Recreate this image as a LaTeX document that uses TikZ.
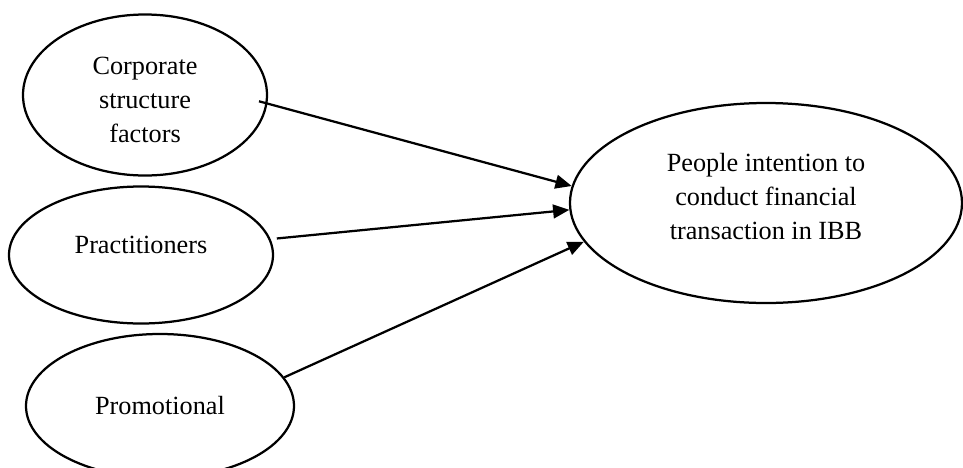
\documentclass[tikz,border=0pt]{standalone}
\usepackage{fontspec}
\setmainfont{Liberation Serif}
\usetikzlibrary{arrows.meta}
\usetikzlibrary{shapes.geometric}

\begin{document}
\begin{tikzpicture}[
		x=0.4pt, y=-0.4pt,
		arrow/.style={line width=0.9pt, -{Triangle[length=6.5pt, width=5.5pt]}},
		factor/.style={draw, ellipse, line width=0.9pt, inner sep=0pt, align=center, font=\fontsize{10.5}{13.6}\selectfont},
	]
		\useasboundingbox (0,0) rectangle (963,468);

		\node[factor, minimum width=97.6pt, minimum height=64.4pt, text height=37.9pt] (corporate) at (145,95) {Corporate\\structure\\factors};
		\node[factor, minimum width=105.6pt, minimum height=54.8pt, text depth=8pt] (practitioners) at (141,255) {Practitioners};
		\node[factor, minimum width=107.2pt, minimum height=57.6pt] (promotional) at (160,406) {Promotional};
		\node[factor, minimum width=156.8pt, minimum height=80pt, text depth=5.6pt] (intention) at (766,203) {People intention to\\conduct financial\\transaction in IBB};

		\draw[arrow, shorten <=-3.5pt] (corporate.-4) -- (intention.175);
		\draw[arrow, shorten <=2.5pt] (practitioners.7) -- (intention.182);
		\draw[arrow] (promotional.13) -- (intention.192);
	\end{tikzpicture}
\end{document}
